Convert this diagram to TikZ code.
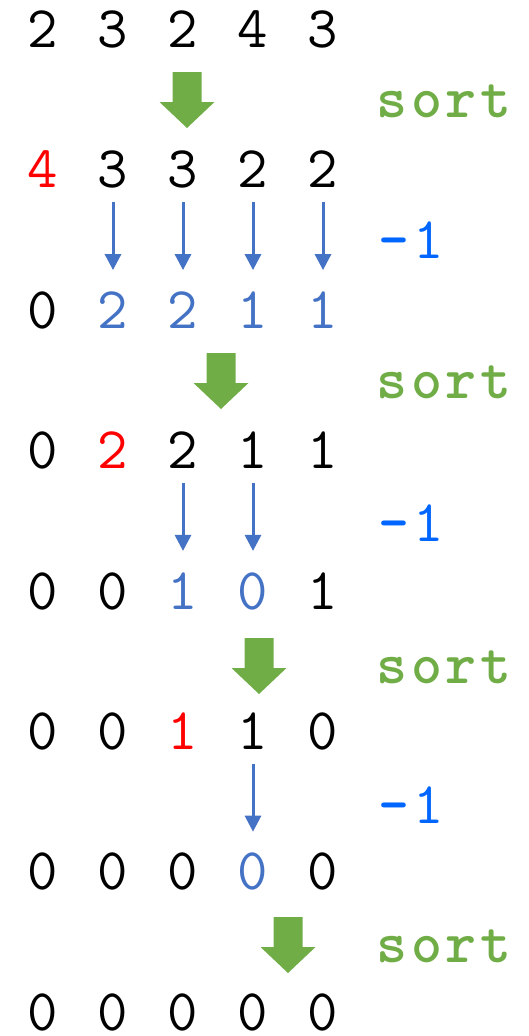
\documentclass[tikz,border=0pt]{standalone}
\usepackage{fontspec}
\usepackage{xcolor}
\usepackage{tikz}
\usetikzlibrary{arrows.meta}

\definecolor{sortgreen}{HTML}{70AD47}
\definecolor{decblue}{HTML}{4472C4}
\definecolor{stepblue}{HTML}{0066FF}
% one fixed-width character cell
\newcommand\cellbox[1]{\makebox[35pt]{#1}}

\begin{document}
\begin{tikzpicture}[x=1pt, y=-1pt,
  num/.style={font=\ttfamily\fontsize{59}{59}\selectfont, inner sep=0pt,
    text height=35pt, text depth=0pt, anchor=base},
  dec/.style={draw=decblue, line width=3pt,
    -{Triangle[width=16pt,length=16pt]}, shorten <=14pt, shorten >=23pt},
  sortlbl/.style={num, text=sortgreen, font=\ttfamily\bfseries\fontsize{59}{59}\selectfont},
  steplbl/.style={num, text=stepblue}]
  \useasboundingbox (0,0) rectangle (529,1036);
  % rows of values, each entry is value/colour
  \foreach \row/\vals in {
      0/{2/black,3/black,2/black,4/black,3/black},
      1/{4/red,3/black,3/black,2/black,2/black},
      2/{0/black,2/decblue,2/decblue,1/decblue,1/decblue},
      3/{0/black,2/red,2/black,1/black,1/black},
      4/{0/black,0/black,1/decblue,0/decblue,1/black},
      5/{0/black,0/black,1/red,1/black,0/black},
      6/{0/black,0/black,0/black,0/decblue,0/black},
      7/{0/black,0/black,0/black,0/black,0/black}} {
    \foreach \v/\c [count=\col from 0] in \vals {
      \node[num, text=\c] (n\row-\col) at ({43+70*\col}, {47.5+140.4*\row}) {\v};
    }
  }
  % sort steps
  \foreach \x/\y [count=\i] in {187/72, 221/353, 259/638, 288/917} {
    \fill[sortgreen] (\x-14.5,\y) -- (\x+14.5,\y) -- (\x+14.5,\y+30)
      -- (\x+27.5,\y+30) -- (\x,\y+56) -- (\x-27.5,\y+30)
      -- (\x-14.5,\y+30) -- cycle;
    \node[sortlbl] (s\i) at (444,\y+45) {\cellbox{s}\cellbox{o}\cellbox{r}\cellbox{t}};
  }
  % decrement steps
  \foreach \c in {1,2,3,4} \draw[dec] (n1-\c) -- (n2-\c);
  \foreach \c in {2,3} \draw[dec] (n3-\c) -- (n4-\c);
  \draw[dec] (n5-3) -- (n6-3);
  \foreach \y [count=\i] in {258, 541, 823}
    \node[steplbl] (m\i) at (411,\y) {\cellbox{\bfseries-}\cellbox{1}};
\end{tikzpicture}
\end{document}
